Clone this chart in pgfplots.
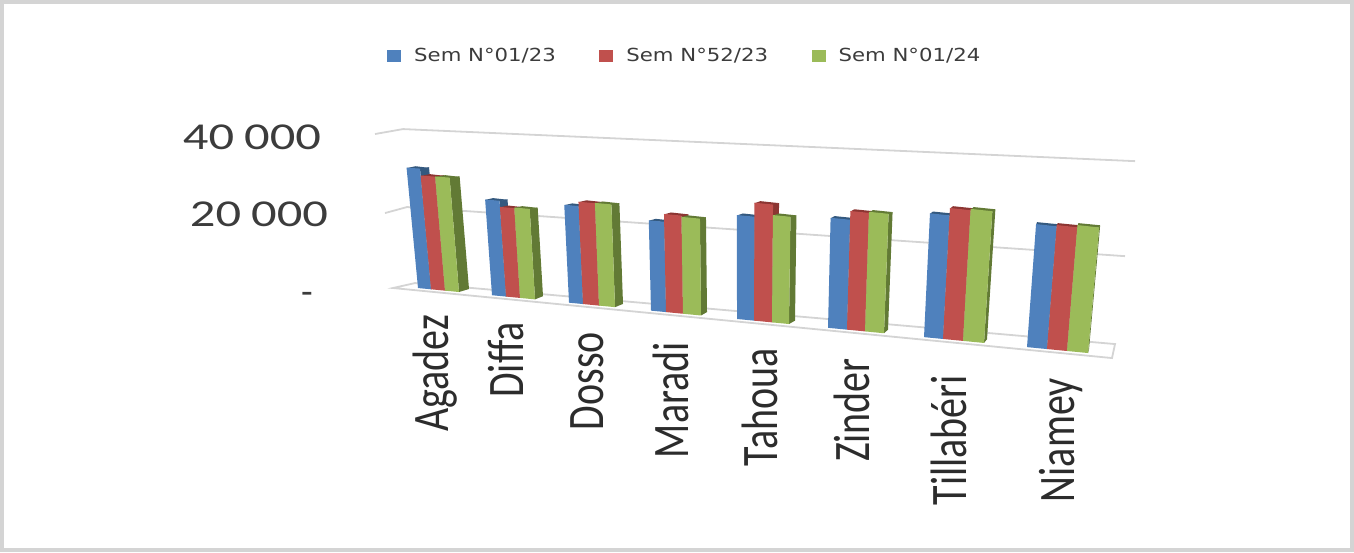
\documentclass[border=0pt]{standalone}
\usepackage{fontspec}
\setmainfont{Carlito}
\newfontfamily\legfont{DejaVu Sans}
\usepackage{graphicx}
\usepackage{pgfplots}
\usepackage{pgfplotstable}
\pgfplotsset{compat=1.18}

\definecolor{blueF}{HTML}{4F81BD}
\definecolor{blueS}{HTML}{34597F}
\definecolor{redF}{HTML}{C0504D}
\definecolor{redS}{HTML}{8C3532}
\definecolor{greenF}{HTML}{9BBB59}
\definecolor{greenS}{HTML}{627A35}
\definecolor{gridc}{HTML}{D4D4D4}
\definecolor{txt}{HTML}{3C3C3C}
\definecolor{cattxt}{HTML}{2C2C2C}

% x0 x1: foot of the front face (in px along the floor), dx: visible depth
\pgfplotstableread{
x0 x1 dx v
418 431 9 30900
492 506 8 24100
569 583 8 24200
651 666 7 21900
737 754 6 24700
828 847 4 25600
924 943 3 28200
1027 1047 1 27400
}\semA
\pgfplotstableread{
x0 x1 dx v
431 445 9 29100
506 520 8 22500
583 599 8 25200
666 683 7 23700
754 772 6 27900
847 865 4 27500
943 963 3 29700
1047 1067 1 27500
}\semB
\pgfplotstableread{
x0 x1 dx v
445 459 10 29100
520 535 8 22600
599 615 8 25200
683 701 6 23300
772 789 6 25300
865 884 4 27600
963 984 3 29800
1067 1088 1 27800
}\semC

% wall grid lines: x, depth, value
\pgfplotstableread{
x d v
375 -2.7 40000
403 3.8 40000
1135 12.3 40000
}\gridhigh
\pgfplotstableread{
x d v
385 -4.7 20000
407 3 20000
1125 8.6 20000
}\gridlow

% x of a bar edge at height v: the verticals lean away from x=740
\newcommand\leanx[3]{\pgfmathsetmacro#1{#2+(#2-740)/100*(\the\numexpr#3/10\relax/100)*0.115}}

\pgfplotsset{
  % the vertical scale grows with the distance along the floor (perspective)
  persp/.style={z filter/.code={\edef\zcur{\pgfmathresult}\pgfmathparse{\zcur*(1+0.00027*(\pgfkeysvalueof{/data point/x}-410))}}},
  face/.style={forget plot,fill=#1,draw=none,persp},
}

\newcommand\drawseries[3]{%
  \pgfplotstablegetrowsof{#1}%
  \pgfmathtruncatemacro\lastrow{\pgfplotsretval-1}%
  \pgfplotsforeachungrouped \i in {0,...,\lastrow}{%
    \pgfplotstablegetelem{\i}{x0}\of#1\edef\xa{\pgfplotsretval}%
    \pgfplotstablegetelem{\i}{x1}\of#1\edef\xb{\pgfplotsretval}%
    \pgfplotstablegetelem{\i}{dx}\of#1\edef\dd{\pgfplotsretval}%
    \pgfplotstablegetelem{\i}{v}\of#1\edef\vv{\pgfplotsretval}%
    \pgfmathsetmacro\xc{\xb+\dd}%
    \leanx\ta\xa\vv \leanx\tb\xb\vv
    \pgfmathsetmacro\tc{\tb+\dd}%
    \pgfmathsetmacro\td{\ta+\dd}%
    % side, top, front
    \addplot3[face=#3] coordinates {(\xb,0,0) (\xc,4,0) (\tc,2,\vv) (\tb,0,\vv)} --cycle;
    \addplot3[face=#3] coordinates {(\ta,0,\vv) (\tb,0,\vv) (\tc,2,\vv) (\td,2,\vv)} --cycle;
    \addplot3[face=#2] coordinates {(\xa,0,0) (\xb,0,0) (\tb,0,\vv) (\ta,0,\vv)} --cycle;
  }%
}

\begin{document}
\begin{tikzpicture}[x=1pt,y=1pt]
\path[use as bounding box] (0,0) rectangle (1354,552);
\draw[gridc,line width=4pt] (2,2) rectangle (1352,550);
\begin{axis}[
  at={(0pt,304.5pt)}, anchor=origin,
  x={(1pt,-0.097pt)}, y={(0pt,1pt)}, z={(0pt,0.00385pt)},
  xmin=0, xmax=1354, ymin=-20, ymax=20, zmin=0, zmax=60000,
  hide axis, clip=false,
  legend columns=3,
  legend style={at={(axis cs:387,0,59600)},anchor=west,draw=none,fill=none,inner sep=0pt,
    font=\legfont\fontsize{18}{18}\selectfont\color{txt},
    /tikz/every even column/.append style={column sep=41.5pt}},
  legend image code/.code={\fill[#1,draw=none] (0pt,-6pt) rectangle (14pt,6pt);},
]
% floor
\addplot3[forget plot,gridc,line width=1.8pt,fill=white] coordinates {(393,-2.4,0) (415,4.7,0) (1115,11.6,0) (1112,-2.7,0)} --cycle;
% wall grid lines
\addplot3[forget plot,gridc,line width=1.8pt] table[x=x,y=d,z expr={\thisrow{v}*(1+0.00027*(\thisrow{x}-410))}] {\gridhigh};
\addplot3[forget plot,gridc,line width=1.8pt] table[x=x,y=d,z expr={\thisrow{v}*(1+0.00027*(\thisrow{x}-410))}] {\gridlow};

\drawseries{\semA}{blueF}{blueS}
\drawseries{\semB}{redF}{redS}
\drawseries{\semC}{greenF}{greenS}

\addlegendimage{fill=blueF}\addlegendentry{\hspace{11pt}\scalebox{1.18}[1]{Sem N°01/23}}
\addlegendimage{fill=redF}\addlegendentry{\hspace{11pt}\scalebox{1.18}[1]{Sem N°52/23}}
\addlegendimage{fill=greenF}\addlegendentry{\hspace{11pt}\scalebox{1.18}[1]{Sem N°01/24}}
\end{axis}

\begin{scope}[every node/.style={text=txt,inner sep=0pt}]
\node[font=\fontsize{38}{38}\selectfont,xscale=1.33] at (252,415) {40\hspace{.2em}000};
\node[font=\fontsize{38}{38}\selectfont,xscale=1.33] at (259,338) {20\hspace{.2em}000};
\node[font=\fontsize{38}{38}\selectfont] at (307,254) {-};
\foreach \n/\xx/\yy in {Agadez/448/315,Diffa/523/322,Dosso/603.5/332,Maradi/688.5/342,Tahoua/777/348,Zinder/869/358,Tillabéri/966/375,Niamey/1074/378}
  \node[text=cattxt,font=\fontsize{40}{40}\selectfont,rotate=90,anchor=base east] at (\xx,552-\yy) {\scalebox{1}[1.28]{\n}};
\end{scope}
\end{tikzpicture}
\end{document}
